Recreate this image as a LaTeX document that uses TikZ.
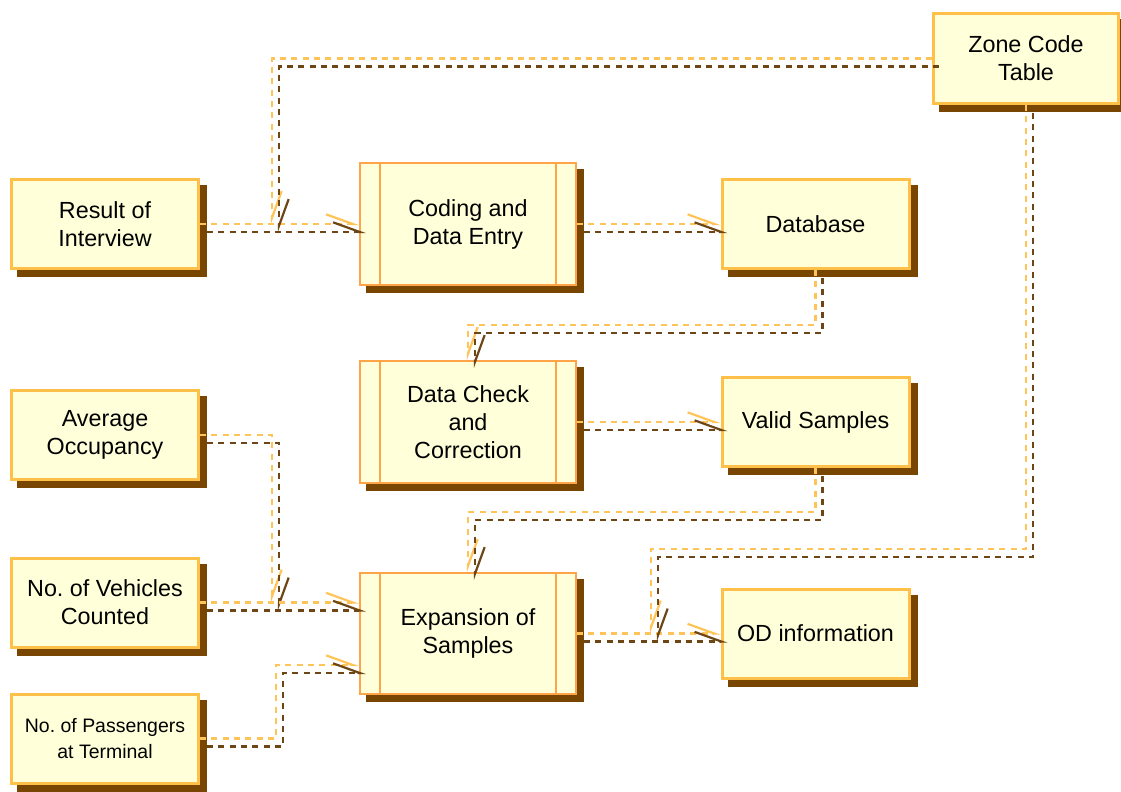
\documentclass[tikz,border=0pt]{standalone}
\usepackage{fontspec}
\setmainfont{Liberation Sans}
\frenchspacing
\usetikzlibrary{arrows.meta,calc,shadows}
\definecolor{boxfill}{HTML}{FFFFDA}
\definecolor{boxedge}{HTML}{FFC04A}
\definecolor{procedge}{HTML}{FFA448}
\definecolor{shade}{HTML}{784600}
\definecolor{flowlight}{HTML}{FFC457}
\definecolor{flowdark}{HTML}{6E4616}
\newcommand{\flow}[1]{\draw[FlowLight] #1; \draw[FlowDark] #1;}

\begin{document}
\begin{tikzpicture}[
x=0.75pt,y=-0.75pt,
DataBox/.style={draw=boxedge,fill=boxfill,line width=2.25pt,
  minimum width=187*0.75pt,minimum height=89*0.75pt,inner sep=0pt,align=center,
  font=\fontsize{17.5}{21}\selectfont,
  drop shadow={shadow xshift=5.6pt,shadow yshift=-5.6pt,fill=shade,draw=shade,opacity=1}},
ProcBox/.style={DataBox,draw=procedge,line width=1.5pt,
  minimum width=216*0.75pt,minimum height=122*0.75pt},
ProcLine/.style={draw=procedge,line width=1.1pt},
FlowLight/.style={draw=flowlight,line width=1.65pt,dash pattern=on 4.5pt off 4pt,
  -{Straight Barb[left,length=20pt,width=14.5pt]}},
FlowDark/.style={FlowLight,draw=flowdark,transform canvas={xshift=5.25pt,yshift=-6pt}}
]
\useasboundingbox (0,0) rectangle (1121,792);

% data stores
\node[DataBox] (res) at (105,224) {Result of\\Interview};
\node[DataBox] (db) at (815.5,224) {Database};
\node[DataBox,minimum width=185*0.75pt,minimum height=90*0.75pt] (zone) at (1026,58.5) {Zone Code\\Table};
\node[DataBox] (val) at (815.5,422) {Valid Samples};
\node[DataBox] (occ) at (105,435) {Average\\Occupancy};
\node[DataBox] (veh) at (105,602.5) {No. of Vehicles\\Counted};
\node[DataBox] (od) at (815.5,633.5) {OD information};
\node[DataBox,font=\fontsize{14.6}{20}\selectfont] (pas) at (105,738.5) {No. of Passengers\\at Terminal};

% processes
\node[ProcBox] (cod) at (468,224) {Coding and\\Data Entry};
\node[ProcBox] (chk) at (468,422) {Data Check\\and\\Correction};
\node[ProcBox,minimum height=121*0.75pt] (exp) at (468,633.5) {Expansion of\\Samples};
\foreach \p in {cod,chk,exp}{
  \draw[ProcLine] ($(\p.north west)+(21,0)$) -- ($(\p.south west)+(21,0)$);
  \draw[ProcLine] ($(\p.north east)+(-21,0)$) -- ($(\p.south east)+(-21,0)$);
}

% junctions
\coordinate (j1) at (272,224);
\coordinate (j2) at (272,602.5);
\coordinate (j3) at (651,633.5);

% flows
\flow{(res.east) -- (cod.west)}
\flow{(zone.west) -| (j1)}
\flow{(cod.east) -- (db.west)}
\flow{(db.south) -- ++(0,55) -| (chk.north)}
\flow{(chk.east) -- (val.west)}
\flow{(val.south) -- ++(0,44) -| (exp.north)}
\flow{(occ.east) -| (j2)}
\flow{(veh.east) -- (veh.east -| exp.west)}
\flow{(pas.east) -- ++(76,0) |- ($(exp.west)+(0,31.5)$)}
\flow{(exp.east) -- (od.west)}
\flow{(zone.south) -- ++(0,444) -| (j3)}

\end{tikzpicture}
\end{document}
